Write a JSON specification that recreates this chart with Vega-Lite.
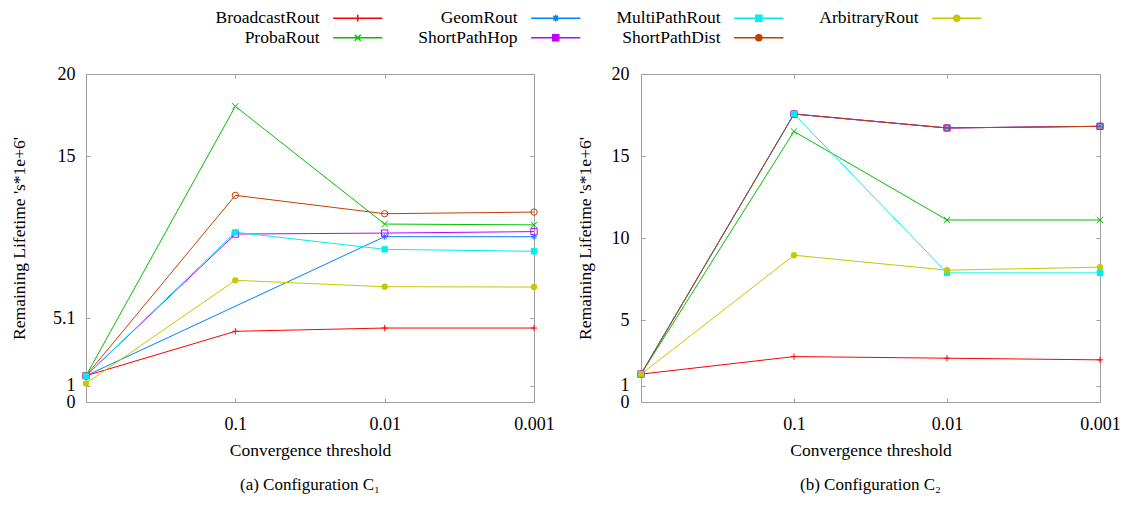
{
  "$schema": "https://vega.github.io/schema/vega-lite/v6.json",
  "background": "white",
  "padding": {"left": 10, "top": 9, "right": 5, "bottom": 5},
  "bounds": "flush",
  "spacing": 107,
  "config": {
    "font": "Liberation Serif",
    "view": {"stroke": "#a0a0a0", "strokeWidth": 1},
    "axis": {
      "domain": false, "grid": false, "labelOverlap": false, "labelFlush": false, "labelBound": false,
      "labelFont": "Liberation Serif", "labelFontSize": 18, "labelColor": "black",
      "titleFont": "Liberation Serif", "titleFontSize": 17.5, "titleFontWeight": "normal", "titleColor": "black",
      "tickColor": "#a0a0a0", "tickSize": -4
    },
    "title": {"font": "Liberation Serif", "fontSize": 17, "fontWeight": "normal", "color": "black", "orient": "bottom", "offset": 18}
  },
  "resolve": {"scale": {"color": "shared", "shape": "shared"}, "legend": {"color": "shared"}},
  "datasets": {
    "c1": [
      {"series": "BroadcastRout", "x": 0, "value": 1.6},
      {"series": "BroadcastRout", "x": 1, "value": 4.31},
      {"series": "BroadcastRout", "x": 2, "value": 4.51},
      {"series": "BroadcastRout", "x": 3, "value": 4.51},
      {"series": "ProbaRout", "x": 0, "value": 1.6},
      {"series": "ProbaRout", "x": 1, "value": 18.03},
      {"series": "ProbaRout", "x": 2, "value": 10.85},
      {"series": "ProbaRout", "x": 3, "value": 10.8},
      {"series": "GeomRout", "x": 0, "value": 1.6},
      {"series": "GeomRout", "x": 2, "value": 10.08},
      {"series": "GeomRout", "x": 3, "value": 10.08},
      {"series": "ShortPathHop", "x": 0, "value": 1.6},
      {"series": "ShortPathHop", "x": 1, "value": 10.24},
      {"series": "ShortPathHop", "x": 2, "value": 10.3},
      {"series": "ShortPathHop", "x": 3, "value": 10.39},
      {"series": "MultiPathRout", "x": 0, "value": 1.6},
      {"series": "MultiPathRout", "x": 1, "value": 10.35},
      {"series": "MultiPathRout", "x": 2, "value": 9.31},
      {"series": "MultiPathRout", "x": 3, "value": 9.19},
      {"series": "ShortPathDist", "x": 0, "value": 1.6},
      {"series": "ShortPathDist", "x": 1, "value": 12.6},
      {"series": "ShortPathDist", "x": 2, "value": 11.48},
      {"series": "ShortPathDist", "x": 3, "value": 11.58},
      {"series": "ArbitraryRout", "x": 0, "value": 1.13},
      {"series": "ArbitraryRout", "x": 1, "value": 7.42},
      {"series": "ArbitraryRout", "x": 2, "value": 7.03},
      {"series": "ArbitraryRout", "x": 3, "value": 7.01}
    ],
    "c2": [
      {"series": "BroadcastRout", "x": 0, "value": 1.7},
      {"series": "BroadcastRout", "x": 1, "value": 2.77},
      {"series": "BroadcastRout", "x": 2, "value": 2.67},
      {"series": "BroadcastRout", "x": 3, "value": 2.57},
      {"series": "ProbaRout", "x": 0, "value": 1.7},
      {"series": "ProbaRout", "x": 1, "value": 16.5},
      {"series": "ProbaRout", "x": 2, "value": 11.1},
      {"series": "ProbaRout", "x": 3, "value": 11.1},
      {"series": "GeomRout", "x": 0, "value": 1.7},
      {"series": "GeomRout", "x": 1, "value": 17.56},
      {"series": "GeomRout", "x": 2, "value": 16.71},
      {"series": "GeomRout", "x": 3, "value": 16.81},
      {"series": "ShortPathHop", "x": 0, "value": 1.7},
      {"series": "ShortPathHop", "x": 1, "value": 17.56},
      {"series": "ShortPathHop", "x": 2, "value": 16.71},
      {"series": "ShortPathHop", "x": 3, "value": 16.81},
      {"series": "MultiPathRout", "x": 0, "value": 1.7},
      {"series": "MultiPathRout", "x": 1, "value": 17.56},
      {"series": "MultiPathRout", "x": 2, "value": 7.87},
      {"series": "MultiPathRout", "x": 3, "value": 7.87},
      {"series": "ShortPathDist", "x": 0, "value": 1.7},
      {"series": "ShortPathDist", "x": 1, "value": 17.56},
      {"series": "ShortPathDist", "x": 2, "value": 16.71},
      {"series": "ShortPathDist", "x": 3, "value": 16.81},
      {"series": "ArbitraryRout", "x": 0, "value": 1.7},
      {"series": "ArbitraryRout", "x": 1, "value": 8.95},
      {"series": "ArbitraryRout", "x": 2, "value": 8.04},
      {"series": "ArbitraryRout", "x": 3, "value": 8.22}
    ]
  },
  "hconcat": [
    {
      "width": 448, "height": 328,
      "title": {"text": "(a) Configuration C₁"},
      "data": {"name": "c1"},
      "layer": [
        {
          "mark": {"type": "line", "strokeWidth": 1, "clip": false},
          "encoding": {
            "x": {"field": "x", "type": "quantitative", "scale": {"domain": [0, 3], "nice": false, "zero": false},
                  "axis": {"orient": "bottom", "values": [1, 2, 3], "labelExpr": "datum.value == 1 ? '0.1' : datum.value == 2 ? '0.01' : '0.001'", "title": "Convergence threshold", "labelPadding": 17, "titlePadding": 8}},
            "y": {"field": "value", "type": "quantitative", "scale": {"domain": [0, 20], "nice": false},
                  "axis": {"orient": "left", "values": [0, 1, 5.1, 15, 20], "labelExpr": "datum.value + ''", "title": "Remaining Lifetime 's*1e+6'", "labelPadding": 15, "titlePadding": 24}},
            "color": {"field": "series", "type": "nominal",
                      "scale": {"domain": ["BroadcastRout", "GeomRout", "MultiPathRout", "ArbitraryRout", "ProbaRout", "ShortPathHop", "ShortPathDist"],
                                "range": ["#ff0000", "#0080ff", "#00eeee", "#c8c800", "#00c000", "#c000ff", "#c04000"]},
                      "legend": {
                        "orient": "none", "legendX": 263, "legendY": -65, "columns": 4, "direction": "horizontal", "title": null,
                        "labelAlign": "right", "labelOffset": -47, "labelFont": "Liberation Serif", "labelFontSize": 17.5, "labelColor": "black",
                        "columnPadding": 32, "rowPadding": 1, "padding": 0, "labelLimit": 300, "symbolSize": 36, "symbolStrokeWidth": 1.5,
                        "encode": {
                          "symbols": {
                            "update": {
                              "shape": {"signal": "datum.value == 'BroadcastRout' ? 'M-8.2,0L8.2,0M0,-1.1L0,1.1' : datum.value == 'ProbaRout' ? 'M-8.2,0L8.2,0M-1,-1L1,1M-1,1L1,-1' : datum.value == 'GeomRout' ? 'M-8.2,0L8.2,0M0,-1.1L0,1.1M-0.8,-0.8L0.8,0.8M-0.8,0.8L0.8,-0.8' : datum.value == 'ShortPathHop' ? 'M-8.2,0L-1,0M1,0L8.2,0M-1,-1L1,-1L1,1L-1,1Z' : datum.value == 'MultiPathRout' ? 'M-8.2,0L8.2,0M-1,-1L1,-1L1,1L-1,1Z' : datum.value == 'ShortPathDist' ? 'M-8.2,0L-1,0M1,0L8.2,0M-1,0A1,1 0 1,0 1,0A1,1 0 1,0 -1,0Z' : 'M-8.2,0L8.2,0M-1,0A1,1 0 1,0 1,0A1,1 0 1,0 -1,0Z'"},
                              "fill": {"signal": "datum.value == 'MultiPathRout' ? '#00eeee' : datum.value == 'ArbitraryRout' ? '#c8c800' : 'transparent'"},
                              "size": {"value": 36},
                              "strokeWidth": {"value": 1.5},
                              "opacity": {"value": 1}
                            }
                          }
                        }
                      }}
          }
        },
        {
          "transform": [{"filter": "datum.series != 'MultiPathRout' && datum.series != 'ArbitraryRout'"}],
          "mark": {"type": "point", "filled": false, "strokeWidth": 1, "size": 40, "opacity": 1, "clip": false},
          "encoding": {
            "x": {"field": "x", "type": "quantitative", "axis": {"orient": "top", "values": [1, 2, 3], "labels": false, "title": null}},
            "y": {"field": "value", "type": "quantitative", "axis": {"orient": "right", "values": [0, 1, 5.1, 15, 20], "labels": false, "title": null}},
            "color": {"field": "series", "type": "nominal", "legend": null},
            "shape": {"field": "series", "type": "nominal",
                      "scale": {"domain": ["BroadcastRout", "ProbaRout", "GeomRout", "ShortPathHop", "MultiPathRout", "ShortPathDist", "ArbitraryRout"],
                                "range": ["M-1,0L1,0M0,-1L0,1", "M-1,-1L1,1M-1,1L1,-1", "M-1,0L1,0M0,-1L0,1M-0.7,-0.7L0.7,0.7M-0.7,0.7L0.7,-0.7", "square", "square", "circle", "circle"]},
                      "legend": null}
          }
        },
        {
          "transform": [{"filter": "datum.series == 'MultiPathRout' || datum.series == 'ArbitraryRout'"}],
          "mark": {"type": "point", "filled": true, "size": 40, "opacity": 1, "clip": false},
          "encoding": {
            "x": {"field": "x", "type": "quantitative", "axis": null},
            "y": {"field": "value", "type": "quantitative", "axis": null},
            "color": {"field": "series", "type": "nominal", "legend": null},
            "shape": {"field": "series", "type": "nominal", "legend": null}
          }
        }
      ]
    },
    {
      "width": 459, "height": 328,
      "title": {"text": "(b) Configuration C₂"},
      "data": {"name": "c2"},
      "layer": [
        {
          "mark": {"type": "line", "strokeWidth": 1, "clip": false},
          "encoding": {
            "x": {"field": "x", "type": "quantitative", "scale": {"domain": [0, 3], "nice": false, "zero": false},
                  "axis": {"orient": "bottom", "values": [1, 2, 3], "labelExpr": "datum.value == 1 ? '0.1' : datum.value == 2 ? '0.01' : '0.001'", "title": "Convergence threshold", "labelPadding": 17, "titlePadding": 8}},
            "y": {"field": "value", "type": "quantitative", "scale": {"domain": [0, 20], "nice": false},
                  "axis": {"orient": "left", "values": [0, 1, 5, 10, 15, 20], "labelExpr": "datum.value + ''", "title": "Remaining Lifetime 's*1e+6'", "labelPadding": 16, "titlePadding": 17}},
            "color": {"field": "series", "type": "nominal", "legend": null}
          }
        },
        {
          "transform": [{"filter": "datum.series != 'MultiPathRout' && datum.series != 'ArbitraryRout'"}],
          "mark": {"type": "point", "filled": false, "strokeWidth": 1, "size": 40, "opacity": 1, "clip": false},
          "encoding": {
            "x": {"field": "x", "type": "quantitative", "axis": {"orient": "top", "values": [1, 2, 3], "labels": false, "title": null}},
            "y": {"field": "value", "type": "quantitative", "axis": {"orient": "right", "values": [0, 1, 5, 10, 15, 20], "labels": false, "title": null}},
            "color": {"field": "series", "type": "nominal", "legend": null},
            "shape": {"field": "series", "type": "nominal", "legend": null}
          }
        },
        {
          "transform": [{"filter": "datum.series == 'MultiPathRout' || datum.series == 'ArbitraryRout'"}],
          "mark": {"type": "point", "filled": true, "size": 40, "opacity": 1, "clip": false},
          "encoding": {
            "x": {"field": "x", "type": "quantitative", "axis": null},
            "y": {"field": "value", "type": "quantitative", "axis": null},
            "color": {"field": "series", "type": "nominal", "legend": null},
            "shape": {"field": "series", "type": "nominal", "legend": null}
          }
        }
      ]
    }
  ]
}
